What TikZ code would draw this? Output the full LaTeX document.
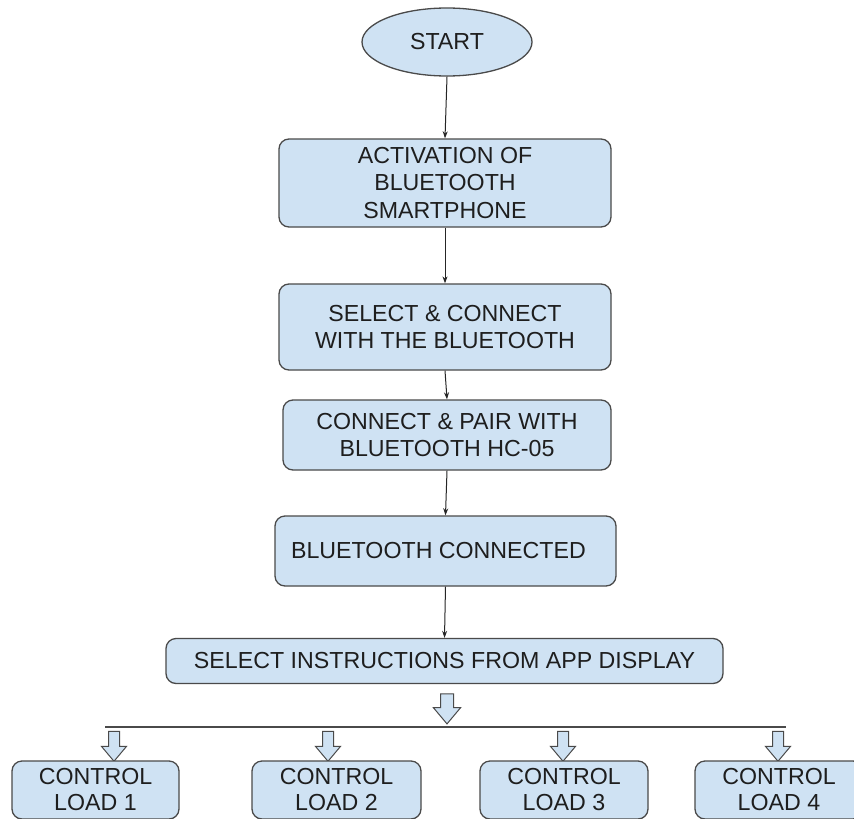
\documentclass[tikz,border=0pt]{standalone}
\usepackage{fontspec}
\setmainfont{Liberation Sans}
\usetikzlibrary{shapes.geometric,shapes.arrows,arrows.meta}
\definecolor{boxfill}{HTML}{CFE2F3}
\definecolor{boxline}{HTML}{4A4A4A}
\definecolor{inktext}{HTML}{1E1E1E}
\begin{document}
\begin{tikzpicture}[x=1pt,y=-1pt,
  every node/.style={font=\fontsize{23.2}{27.5}\selectfont, text=inktext},
  stepbox/.style={draw=boxline, line width=1.3pt, fill=boxfill, rounded corners=10pt,
                  align=center, inner sep=0pt},
  startshape/.style={draw=boxline, line width=1.3pt, fill=boxfill, ellipse,
                  minimum width=170pt, minimum height=68pt, inner sep=0pt},
  flow/.style={draw=black!85, line width=1pt, -{Stealth[length=7pt,width=5pt]}},
  hollow/.style={draw=boxline, line width=1pt, fill=boxfill, shape=single arrow,
                 rotate=-90, inner sep=0pt, minimum height=30pt,
                 single arrow tip angle=80},
  bus/.style={draw=boxline, line width=1.2pt}
]
\useasboundingbox (0,0) rectangle (854,819);
\clip (0,0) rectangle (854,819);
\fill[white] (0,0) rectangle (854,819);

% main flow
\node[startshape] (start) at (447,42) {START};
\node[stepbox, minimum width=332pt, minimum height=88pt] (act) at (445,183)
  {ACTIVATION OF\\BLUETOOTH\\SMARTPHONE};
\node[stepbox, minimum width=332pt, minimum height=86pt] (sel) at (445,327)
  {SELECT \& CONNECT\\WITH THE BLUETOOTH};
\node[stepbox, minimum width=328pt, minimum height=70pt] (pair) at (447,435)
  {CONNECT \& PAIR WITH\\BLUETOOTH HC-05};
\node[stepbox, minimum width=341pt, minimum height=70pt] (conn) at (445.5,551)
  {BLUETOOTH CONNECTED\hspace{14pt}};
\node[stepbox, minimum width=557pt, minimum height=45pt] (instr) at (444.5,661)
  {SELECT INSTRUCTIONS FROM APP DISPLAY};

\draw[flow] (start.south) -- (act.north);
\draw[flow] (act.south) -- (sel.north);
\draw[flow] (sel.south) -- (pair.north);
\draw[flow] (pair.south) -- (conn.north);
\draw[flow] (conn.south) -- (instr.north);

% distribution to the loads
\node[hollow, minimum width=21pt] (down) at (447,705) {\rule{0pt}{12pt}};
\coordinate (busL) at (105,727);
\coordinate (busR) at (786,727);
\draw[bus] (busL) -- (busR);

\node[hollow, minimum width=19pt] (a1) at (114,743) {\rule{0pt}{10pt}};
\node[hollow, minimum width=19pt] (a2) at (328,743) {\rule{0pt}{10pt}};
\node[hollow, minimum width=19pt] (a3) at (563,743) {\rule{0pt}{10pt}};
\node[hollow, minimum width=19pt] (a4) at (778,743) {\rule{0pt}{10pt}};

\begin{scope}[every node/.append style={font=\fontsize{23.2}{26}\selectfont}]
\node[stepbox, minimum width=167pt, minimum height=58pt] (load1) at (95.5,790) {CONTROL\\LOAD 1};
\node[stepbox, minimum width=169pt, minimum height=58pt] (load2) at (336.5,790) {CONTROL\\LOAD 2};
\node[stepbox, minimum width=168pt, minimum height=58pt] (load3) at (564,790) {CONTROL\\LOAD 3};
\node[stepbox, minimum width=168pt, minimum height=58pt] (load4) at (779,790) {CONTROL\\LOAD 4};
\end{scope}
\end{tikzpicture}
\end{document}
